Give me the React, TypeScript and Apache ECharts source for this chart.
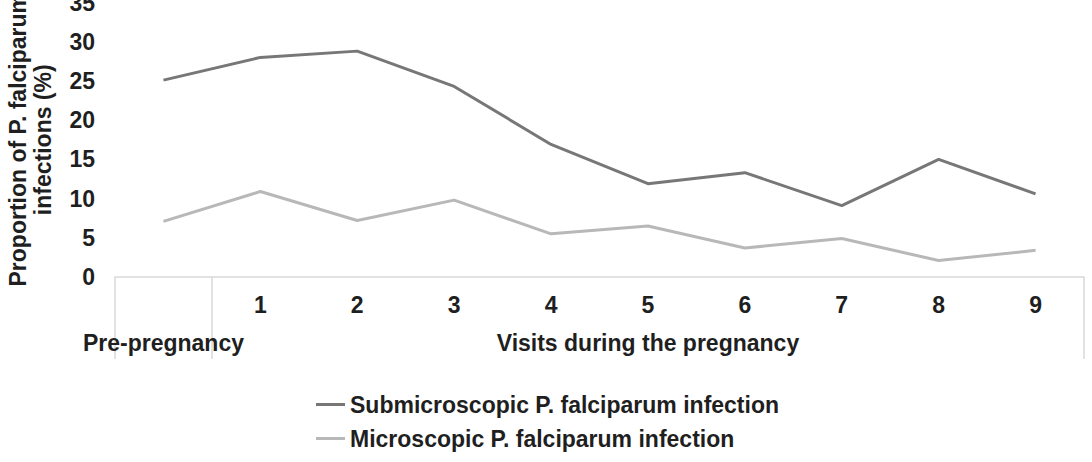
import React, { useEffect, useRef } from "react";
import * as echarts from "echarts";

// Visit categories: pre-pregnancy, then antenatal visits 1–9
const visitLabels = ["", "1", "2", "3", "4", "5", "6", "7", "8", "9"];
// Group row beneath the visit numbers
const groupLabels = ["Pre-pregnancy", "", "", "", "", "Visits during the pregnancy", "", "", "", ""];

// Proportion of P. falciparum infections (%) at each time point
const submicroscopic = [25.1, 28.0, 28.8, 24.3, 16.9, 11.9, 13.3, 9.1, 15.0, 10.6];
const microscopic = [7.1, 10.9, 7.2, 9.8, 5.5, 6.5, 3.7, 4.9, 2.1, 3.4];

const yTicks = { min: 0, max: 35, interval: 5 };

const FONT = "'Liberation Sans', Arial, sans-serif";
const TEXT = "#1f1f1f";
const RULE = "#d9d9d9";

export default function App() {
  const ref = useRef<HTMLDivElement>(null);

  useEffect(() => {
    if (!ref.current) return;
    const chart = echarts.init(ref.current, null, { renderer: "svg" });
    const labelFont = { fontFamily: FONT, fontWeight: "bold" as const, fontSize: 23, color: TEXT };

    chart.setOption({
      animation: false,
      backgroundColor: "#ffffff",
      grid: {
        left: 115,
        right: 8,
        top: 2.5,
        bottom: 185,
        containLabel: false,
        outerBoundsMode: "none",
      },
      xAxis: [
        {
          type: "category",
          data: visitLabels,
          boundaryGap: true,
          axisLine: { show: true, lineStyle: { color: RULE, width: 1.5 } },
          // table-style dividers: left edge, after pre-pregnancy, right edge
          axisTick: {
            show: true,
            length: 82,
            interval: (index: number) => index === 0 || index === 1,
            lineStyle: { color: RULE, width: 1.5 },
          },
          axisLabel: { ...labelFont, interval: 0, margin: 16 },
          splitLine: { show: false },
        },
        {
          type: "category",
          data: groupLabels,
          position: "bottom",
          boundaryGap: true,
          axisLine: { show: false },
          axisTick: { show: false },
          axisLabel: { ...labelFont, interval: 0, margin: 54 },
          splitLine: { show: false },
        },
      ],
      yAxis: {
        type: "value",
        min: yTicks.min,
        max: yTicks.max,
        interval: yTicks.interval,
        axisLine: { show: false },
        axisTick: { show: false },
        splitLine: { show: false },
        axisLabel: { ...labelFont, margin: 20 },
        name: "Proportion of P. falciparum\ninfections (%)",
        nameLocation: "middle",
        nameRotate: 90,
        nameGap: 60,
        nameTextStyle: { ...labelFont, lineHeight: 25 },
      },
      legend: {
        orient: "vertical",
        left: 311,
        top: 388,
        icon: "rect",
        itemWidth: 29,
        itemHeight: 3,
        itemGap: 11,
        textStyle: { ...labelFont },
        data: ["Submicroscopic P. falciparum infection", "Microscopic P. falciparum infection"],
      },
      series: [
        {
          name: "Submicroscopic P. falciparum infection",
          type: "line",
          data: submicroscopic,
          symbol: "none",
          color: "#777777",
          lineStyle: { color: "#777777", width: 3 },
        },
        {
          name: "Microscopic P. falciparum infection",
          type: "line",
          data: microscopic,
          symbol: "none",
          color: "#b8b8b8",
          lineStyle: { color: "#b8b8b8", width: 3 },
        },
      ],
    });

    return () => chart.dispose();
  }, []);

  return (
    <div
      ref={ref}
      style={{ position: "fixed", left: 0, top: 0, width: 1092, height: 462, background: "#fff" }}
    />
  );
}
